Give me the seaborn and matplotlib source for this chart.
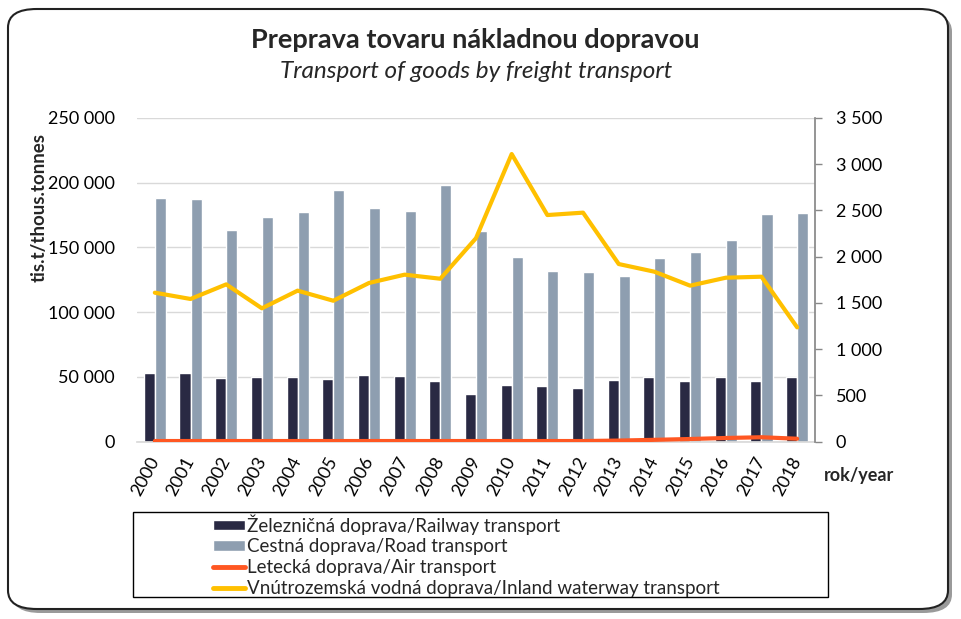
import numpy as np
import pandas as pd
import matplotlib.pyplot as plt
import seaborn as sns
from matplotlib.patches import FancyBboxPatch, Rectangle, Patch
from matplotlib.lines import Line2D
from matplotlib.ticker import FuncFormatter, MultipleLocator

years = [str(y) for y in range(2000, 2019)]
railway = [53200, 53300, 49300, 50100, 50100, 48500, 51600, 50800, 46700, 36700,
           43900, 42900, 41600, 47800, 50100, 46800, 50100, 46800, 50100]
road = [188400, 187200, 163700, 173700, 177400, 194600, 180700, 178400, 198500, 162900,
        142800, 131800, 131000, 127900, 142000, 146700, 155700, 175800, 176300]
air = [5, 5, 5, 5, 5, 5, 5, 5, 5, 5, 5, 5, 5, 10, 18, 27, 38, 46, 30]
waterway = [1610, 1542, 1700, 1441, 1632, 1523, 1715, 1805, 1761, 2200,
            3110, 2450, 2476, 1920, 1837, 1686, 1772, 1783, 1235]

labels = ['Železničná doprava/Railway transport', 'Cestná doprava/Road transport',
          'Letecká doprava/Air transport',
          'Vnútrozemská vodná doprava/Inland waterway transport']
colors = ['#292943', '#8e9eb0', '#ff5722', '#ffc000']

bars = pd.DataFrame({'year': years * 2,
                     'value': railway + road,
                     'mode': [labels[0]] * len(years) + [labels[1]] * len(years)})
lines = pd.DataFrame({'year': years, 'air': air, 'water': waterway})

sns.set_theme(style='white')
plt.rcParams['font.family'] = ['Lato', 'DejaVu Sans']

fig = plt.figure(figsize=(9.62, 6.19), dpi=100)

# rounded frame with shadow
fig.patches.append(FancyBboxPatch((12 / 962, 6 / 619), 940 / 962, 600 / 619,
                                  boxstyle='round,pad=0,rounding_size=0.03',
                                  transform=fig.transFigure, facecolor='#9a9a9a',
                                  edgecolor='none', zorder=-10))
fig.patches.append(FancyBboxPatch((8 / 962, 10 / 619), 940 / 962, 600 / 619,
                                  boxstyle='round,pad=0,rounding_size=0.03',
                                  transform=fig.transFigure, facecolor='white',
                                  edgecolor='#222222', linewidth=1.5, zorder=-9))

ax = fig.add_axes([137 / 962, 177.5 / 619, 678 / 962, 323.5 / 619])
ax.set_facecolor('none')
sns.barplot(data=bars, x='year', y='value', hue='mode', palette=colors[:2],
            width=0.62, saturation=1, ax=ax, legend=False, zorder=2)
ax.set_ylim(0, 250000)
ax.yaxis.set_major_locator(MultipleLocator(50000))
fmt = FuncFormatter(lambda v, p: f'{int(v):,}'.replace(',', ' '))
ax.yaxis.set_major_formatter(fmt)
ax.grid(axis='y', color='#d9d9d9', linewidth=1, zorder=0)
ax.set_axisbelow(True)
for s in ['left', 'right', 'top']:
    ax.spines[s].set_visible(False)
ax.spines['bottom'].set_color('#d9d9d9')
ax.set_xlim(-0.5, len(years) - 0.5)
ax.tick_params(axis='y', length=0, pad=16, labelsize=13, colors='black')
ax.tick_params(axis='x', length=0, pad=12, labelsize=13, colors='black')
plt.setp(ax.get_xticklabels(), rotation=62, ha='right', rotation_mode='anchor', va='center')
ax.set_xlabel('')
ax.set_ylabel('')

ax2 = ax.twinx()
sns.lineplot(data=lines, x='year', y='water', color=colors[3], linewidth=3, ax=ax2, sort=False)
sns.lineplot(data=lines, x='year', y='air', color=colors[2], linewidth=3, ax=ax2, sort=False)
ax2.set_ylim(0, 3500)
ax2.yaxis.set_major_locator(MultipleLocator(500))
ax2.yaxis.set_major_formatter(fmt)
for s in ['left', 'top', 'bottom']:
    ax2.spines[s].set_visible(False)
ax2.spines['right'].set_color('#888888')
ax2.tick_params(axis='y', length=5, width=1, direction='out',
                pad=10, labelsize=13, colors='#888888', labelcolor='black')
ax2.set_xlabel('')
ax2.set_ylabel('')
ax2.grid(False)
ax2.set_xlim(-0.5, len(years) - 0.5)

fig.text(475 / 962, 1 - 40 / 619, 'Preprava tovaru nákladnou dopravou',
         ha='center', va='center', fontsize=19.5, fontweight='bold')
fig.text(476 / 962, 1 - 72 / 619, 'Transport of goods by freight transport',
         ha='center', va='center', fontsize=17.5, fontstyle='italic')
fig.text(39 / 962, 1 - 208 / 619, 'tis.t/thous.tonnes', rotation=90,
         ha='center', va='center', fontsize=13.5, fontweight='bold')
fig.text(824 / 962, 1 - 476 / 619, 'rok/year', ha='left', va='center',
         fontsize=13, fontweight='bold')

# legend box
fig.patches.append(Rectangle((133 / 962, 1 - 597 / 619), 695 / 962, 85 / 619,
                             transform=fig.transFigure, facecolor='white',
                             edgecolor='black', linewidth=1, zorder=1))
handles = [Patch(facecolor=colors[0]), Patch(facecolor=colors[1]),
           Line2D([], [], color=colors[2], linewidth=3.5),
           Line2D([], [], color=colors[3], linewidth=3.5)]
leg = fig.legend(handles, labels, loc='upper left',
                 bbox_to_anchor=(200 / 962, 1 - 501 / 619), frameon=False,
                 fontsize=13.5, handlelength=1.7, handleheight=0.5,
                 handletextpad=0.1, labelspacing=0.2, borderpad=0.2)
leg.set_zorder(3)

fig.savefig('out.png', dpi=100)
